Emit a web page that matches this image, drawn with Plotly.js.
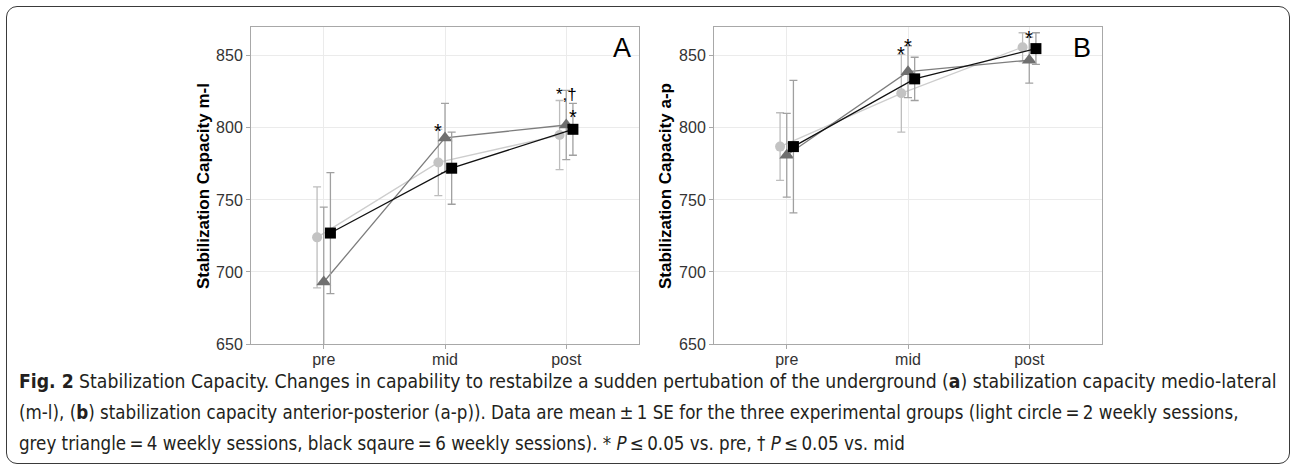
<!DOCTYPE html>
<html>
<head>
<meta charset="utf-8">
<script src="https://cdn.plot.ly/plotly-3.0.1.min.js"></script>
<style>
  html, body { margin: 0; padding: 0; background: #ffffff; }
  #wrap { position: relative; width: 1292px; height: 467px; overflow: hidden; }
  #chart { position: absolute; left: 0; top: 0; width: 1292px; height: 467px; }
  #frame { position: absolute; left: 6px; top: 6px; width: 1284px; height: 458px; box-sizing: border-box;
           border: 1.5px solid #3a3a3a; border-radius: 11px; pointer-events: none; }
</style>
</head>
<body>
<div id="wrap">
  <div id="chart"></div>
  <div id="frame"></div>
</div>
<script>
// ---------- data ----------
const categories = ['pre', 'mid', 'post'];
const groupNames = ['2 weekly sessions', '4 weekly sessions', '6 weekly sessions'];

// Panel A: stabilization capacity medio-lateral (m-l)
const mlCircle   = [724, 776, 795];
const mlCircleSE = [35, 23, 24];
const mlTriangle   = [693, 793, 802];
const mlTriangleSE = [52, 24, 24];
const mlSquare   = [727, 772, 799];
const mlSquareSE = [42, 25, 18];

// Panel B: stabilization capacity anterior-posterior (a-p)
const apCircle   = [787, 824, 856];
const apCircleSE = [23.5, 27, 10];
const apTriangle   = [781, 839, 847];
const apTriangleSE = [29, 18, 16];
const apSquare   = [787, 834, 855];
const apSquareSE = [46, 15, 11];

// significance marks: category index, group index, y value, text
const mlStarCat   = [1, 2, 2];
const mlStarGroup = [0, 1, 2];
const mlStarY     = [801, 823, 811];
const mlStarText  = ['*', '*,\u2020', '*'];

const apStarCat   = [1, 1, 2, 2];
const apStarGroup = [0, 1, 0, 1];
const apStarY     = [854.7, 860.4, 871, 866];
const apStarText  = ['*', '*', '*', '*'];

const yTicks = [650, 700, 750, 800, 850];
const yRange = [650, 870];

const captionLines = [
  '<b>Fig. 2</b> Stabilization Capacity. Changes in capability to restabilze a sudden pertubation of the underground (<b>a</b>) stabilization capacity medio-lateral',
  '(m-l), (<b>b</b>) stabilization capacity anterior-posterior (a-p)). Data are mean\u2009\u00b1\u20091 SE for the three experimental groups (light circle\u2009=\u20092 weekly sessions,',
  'grey triangle\u2009=\u20094 weekly sessions, black sqaure\u2009=\u20096 weekly sessions). * <i>P</i>\u2009\u2264\u20090.05 vs. pre, \u2020 <i>P</i>\u2009\u2264\u20090.05 vs. mid'
];

// ---------- styles ----------
const W = 1292, H = 467;
const SCATTER_GAP = 0.835;
const FONT = 'Liberation Sans, Arial, Helvetica, sans-serif';
const CAPFONT = 'Liberation Sans Narrow, DejaVu Sans Condensed, Roboto Condensed, Liberation Sans, sans-serif';

const styles = [
  { symbol: 'circle', size: 10, mcolor: '#c3c3c3', lcolor: '#cdcdcd', ecolor: '#bdbdbd' },
  { symbol: 'triangle-up', size: 13, mcolor: '#6f6f6f', lcolor: '#7d7d7d', ecolor: '#a3a3a3' },
  { symbol: 'square', size: 11, mcolor: '#000000', lcolor: '#111111', ecolor: '#a0a0a0' }
];

function mk(vals, se, g, xa, ya) {
  const s = styles[g];
  return {
    type: 'scatter', mode: 'lines+markers',
    x: categories, y: vals, xaxis: xa, yaxis: ya,
    name: groupNames[g], showlegend: false, cliponaxis: true,
    line: { color: s.lcolor, width: 1.3 },
    marker: { symbol: s.symbol, size: s.size, color: s.mcolor, line: { width: 0 } },
    error_y: { type: 'data', array: se, visible: true, color: s.ecolor, thickness: 1.3, width: 4 }
  };
}

const data = [
  mk(mlCircle, mlCircleSE, 0, 'x', 'y'),
  mk(mlTriangle, mlTriangleSE, 1, 'x', 'y'),
  mk(mlSquare, mlSquareSE, 2, 'x', 'y'),
  mk(apCircle, apCircleSE, 0, 'x2', 'y2'),
  mk(apTriangle, apTriangleSE, 1, 'x2', 'y2'),
  mk(apSquare, apSquareSE, 2, 'x2', 'y2')
];

function px2paperX(p) { return p / W; }
function px2paperY(p) { return (H - p) / H; }

const axisCommon = {
  showgrid: true, gridcolor: '#ebebeb', gridwidth: 1,
  showline: true, mirror: true, linecolor: '#a8a8a8', linewidth: 1,
  ticks: 'outside', ticklen: 4, tickcolor: '#a8a8a8', tickwidth: 1,
  tickfont: { family: FONT, size: 16, color: '#333333' },
  zeroline: false, fixedrange: true
};

const xAxisBase = Object.assign({}, axisCommon, { type: 'category', range: [-0.6, 2.6], ticklabelstandoff: -3 });
const yAxisBase = Object.assign({}, axisCommon, { range: yRange, tickvals: yTicks, ticktext: yTicks.map(String) });

const annotations = [];
const slot = (1 - SCATTER_GAP) / 3;
function addStars(cats, groups, ys, texts, xref, yref) {
  for (let i = 0; i < cats.length; i++) {
    const multi = texts[i].length > 1;
    annotations.push({
      xref: xref, yref: yref, x: cats[i] + (groups[i] - 1) * slot, y: ys[i],
      text: texts[i], showarrow: false, xanchor: 'center', yanchor: 'middle', yshift: multi ? 0 : -5,
      borderpad: 0,
      font: { family: FONT, size: multi ? 17 : 20, color: '#000000' }
    });
  }
}
addStars(mlStarCat, mlStarGroup, mlStarY, mlStarText, 'x', 'y');
addStars(apStarCat, apStarGroup, apStarY, apStarText, 'x2', 'y2');

// panel letters
annotations.push({ xref: 'paper', yref: 'paper', x: px2paperX(622), y: px2paperY(48), text: 'A', showarrow: false,
  xanchor: 'center', yanchor: 'middle', font: { family: FONT, size: 27, color: '#000' } });
annotations.push({ xref: 'paper', yref: 'paper', x: px2paperX(1082), y: px2paperY(48), text: 'B', showarrow: false,
  xanchor: 'center', yanchor: 'middle', font: { family: FONT, size: 27, color: '#000' } });

// y-axis titles
annotations.push({ xref: 'paper', yref: 'paper', x: px2paperX(203), y: px2paperY(186), text: '<b>Stabilization Capacity m-l</b>',
  textangle: -90, showarrow: false, xanchor: 'center', yanchor: 'middle', font: { family: FONT, size: 17, color: '#000' } });
annotations.push({ xref: 'paper', yref: 'paper', x: px2paperX(665), y: px2paperY(186), text: '<b>Stabilization Capacity a-p</b>',
  textangle: -90, showarrow: false, xanchor: 'center', yanchor: 'middle', font: { family: FONT, size: 17, color: '#000' } });

// caption
const capY = [381, 412, 443];
const capSize = [19.2, 18.6, 18.6];
captionLines.forEach((t, i) => {
  annotations.push({ xref: 'paper', yref: 'paper', x: px2paperX(18), y: px2paperY(capY[i]), text: t, showarrow: false,
    xanchor: 'left', yanchor: 'middle', align: 'left', borderpad: 0,
    font: { family: CAPFONT, size: capSize[i], color: '#231f20' } });
});

const layout = {
  width: W, height: H,
  margin: { l: 0, r: 0, t: 0, b: 0 },
  paper_bgcolor: 'rgba(0,0,0,0)', plot_bgcolor: '#ffffff',
  showlegend: false,
  scattermode: 'group', scattergap: SCATTER_GAP,
  xaxis: Object.assign({}, xAxisBase, { domain: [251 / W, 639 / W], anchor: 'y' }),
  yaxis: Object.assign({}, yAxisBase, { domain: [px2paperY(344), px2paperY(27)], anchor: 'x' }),
  xaxis2: Object.assign({}, xAxisBase, { domain: [714 / W, 1102 / W], anchor: 'y2' }),
  yaxis2: Object.assign({}, yAxisBase, { domain: [px2paperY(344), px2paperY(27)], anchor: 'x2' }),
  annotations: annotations
};

Plotly.newPlot('chart', data, layout, { staticPlot: true, displayModeBar: false });
</script>
</body>
</html>
